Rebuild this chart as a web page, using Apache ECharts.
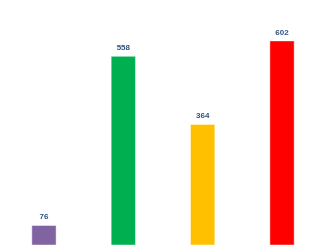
<!DOCTYPE html>
<html><head><meta charset="utf-8">
<script src="https://cdn.jsdelivr.net/npm/echarts@6/dist/echarts.min.js"></script>
<style>html,body{margin:0;padding:0;background:#fff}#c{width:326px;height:245px}</style>
</head><body><div id="c"></div>
<script>
var categories = ['A', 'B', 'C', 'D'];
var values = [76, 558, 364, 602];
var colors = ['#8064A2', '#00B050', '#FFC000', '#FF0000'];

var chart = echarts.init(document.getElementById('c'), null, {renderer: 'canvas'});
chart.setOption({
  animation: false,
  grid: {left: 4.3, right: 4.3, top: 6, bottom: 0, containLabel: false},
  xAxis: {type: 'category', data: categories, show: false},
  yAxis: {type: 'value', min: 19, max: 700, show: false},
  series: [{
    type: 'bar',
    barWidth: 25.3,
    clip: true,
    data: values.map(function (v, i) {
      return {value: v, itemStyle: {color: colors[i]}};
    }),
    itemStyle: {borderColor: 'rgba(255,255,255,0.45)', borderWidth: 1},
    label: {
      show: true, position: 'top', distance: 4,
      color: '#2F5283', fontWeight: 'bold', fontSize: 8,
      fontFamily: 'Liberation Sans'
    }
  }]
});
</script></body></html>
